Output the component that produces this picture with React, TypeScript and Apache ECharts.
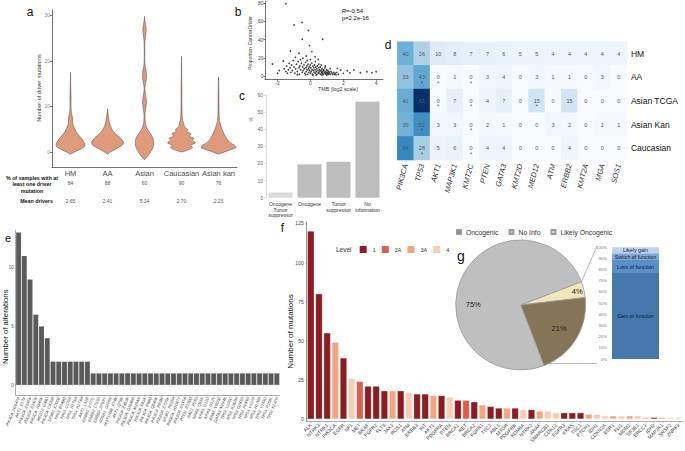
import React, { useEffect, useRef } from 'react';
import * as echarts from 'echarts';

const FONT = "'Liberation Sans', Arial, Helvetica, sans-serif";

// ---------- panel a : violins ----------
const cohortsA = ['HM', 'AA', 'Asian', 'Caucasian', 'Asian kan'];
const pctWithDriver = ['84', '88', '60', '90', '76'];
const meanDrivers = ['2.65', '2.41', '5.14', '2.70', '2.23'];
const densityHM = [[-0.5, 0], [0, 4], [0.5, 9], [1, 13], [1.5, 14.5], [2, 14], [3, 11], [4, 7], [5, 4.5], [6, 2.5], [7, 2], [7.5, 2.2], [8, 1.5], [9, 0.8], [10, 0.5], [12, 0.6], [14, 0.3], [17.5, 0]];
const densityAA = [[-0.5, 0], [0, 3], [0.5, 7], [1, 11], [1.5, 14.5], [2, 16], [2.5, 15], [3, 13], [3.5, 11], [4, 8], [5, 4.5], [6, 2.5], [7, 1.5], [8, 0.8], [9.5, 0]];
const densityAsian = [[-1.7, 0], [-1, 3], [0, 6], [1, 8.5], [2, 9.2], [3, 8.5], [4, 6], [5, 3], [6, 1.2], [7, 0.6], [8, 0.5], [9, 0.8], [10, 1.5], [11, 2], [12, 1.5], [13, 0.7], [14, 0.4], [15, 1], [16, 1.8], [17, 2], [18, 1.5], [19, 0.6], [20, 0.3], [22, 0.3], [24, 0.4], [25.5, 1], [27, 1.7], [28, 1], [29, 0.3], [29.8, 0]];
const densityCauc = [[0, 0], [0.3, 5], [0.7, 9], [1, 11], [1.5, 9.5], [2, 14], [2.5, 11], [3, 12.5], [3.5, 8], [4, 9.5], [4.5, 5.5], [5, 6], [5.5, 3], [6, 2.5], [7, 1.2], [8, 0.7], [10, 0.5], [14, 0.4], [21, 0]];
const densityKan = [[-0.5, 0], [0, 6], [0.5, 12], [1, 17.5], [1.5, 16], [2, 12], [3, 8], [4, 5.5], [5, 3.5], [6, 2], [7, 1], [8, 0.6], [10, 0.5], [13, 0.4], [16.5, 0]];
const violinDensities = [densityHM, densityAA, densityAsian, densityCauc, densityKan];

// ---------- panel b : scatter ----------
const tmbPoints = [
  [-1.5, 79.3], [-1.0, 56], [-0.52, 58.7], [-0.12, 50], [-0.5, 40.4], [0.74, 40.4], [-0.06, 33.4], [-1.22, 27.5], [-0.7, 25], [0.08, 26.8],
  [-1.66, 16.5], [-2.32, 13.2], [-0.92, 20.5], [-0.46, 19.4], [-0.26, 21.9], [0.28, 21.2], [0.48, 18.2],
  [1.84, 6.6], [2.24, 5.8], [2.64, 6.6], [3.04, 3.6], [3.44, 4.7], [3.74, 3.6], [4.0, 4.7], [2.4, 3.6], [1.64, 8.4], [2.0, 2.9],
  [-1.6, 8], [-1.5, 5], [-1.45, 11], [-1.4, 3], [-1.35, 7], [-1.3, 14], [-1.25, 9], [-1.2, 4], [-1.15, 12], [-1.1, 6], [-1.05, 17], [-1.0, 10],
  [-0.95, 3], [-0.9, 8], [-0.85, 13], [-0.8, 5], [-0.75, 16], [-0.7, 9], [-0.68, 2], [-0.65, 11], [-0.6, 7], [-0.55, 14], [-0.5, 4], [-0.48, 10],
  [-0.45, 6], [-0.4, 12], [-0.38, 8], [-0.35, 3], [-0.3, 15], [-0.28, 9], [-0.25, 5], [-0.22, 11], [-0.2, 7], [-0.18, 2], [-0.15, 13], [-0.12, 8],
  [-0.1, 4], [-0.08, 10], [-0.05, 6], [-0.02, 12], [0, 3], [0.02, 9], [0.05, 5], [0.08, 14], [0.1, 7], [0.12, 2], [0.15, 11], [0.18, 6], [0.2, 9],
  [0.22, 4], [0.25, 12], [0.28, 7], [0.3, 3], [0.32, 10], [0.35, 5], [0.38, 8], [0.4, 2], [0.42, 11], [0.45, 6], [0.48, 4], [0.5, 9], [0.52, 3],
  [0.55, 7], [0.58, 5], [0.6, 10], [0.62, 2], [0.65, 6], [0.68, 4], [0.7, 8], [0.72, 3], [0.75, 5], [0.78, 7], [0.8, 2], [0.82, 6], [0.85, 4],
  [0.88, 9], [0.9, 3], [0.92, 5], [0.95, 2], [0.98, 7], [1.0, 4], [1.02, 3], [1.05, 6], [1.08, 2], [1.1, 5], [1.12, 3], [1.15, 4], [1.2, 2],
  [1.25, 5], [1.3, 3], [1.35, 2], [1.4, 4], [1.45, 2], [1.5, 3], [1.55, 1.5], [1.6, 4], [1.7, 2], [-1.9, 6], [-2.0, 3], [-0.6, 18], [0.5, 13],
  [0.9, 11], [0.3, 16], [-0.2, 17], [0.65, 12], [0.0, 18], [1.2, 8], [0.35, 1], [0.7, 1.2], [-0.3, 1.5], [1.0, 1], [0.15, 0.8], [-0.8, 1.5]
];
const tmbTicks = [-2, 0, 2, 4];
const propTicks = [0, 20, 40, 60, 80];

// ---------- panel c : driver classes ----------
const driverClasses = ['Oncogene\nTumor\nsuppressor', 'Oncogene', 'Tumor\nsuppressor', 'No\ninformation'];
const driverClassPct = [3, 19.5, 21, 56];

// ---------- panel d : heatmap ----------
const heatGenes = ['PIK3CA', 'TP53', 'AKT1', 'MAP3K1', 'KMT2C', 'PTEN', 'GATA3', 'KMT2D', 'MED12', 'ATM', 'ERBB2', 'KMT2A', 'MGA', 'SOS1'];
const heatCohorts = ['HM', 'AA', 'Asian TCGA', 'Asian Kan', 'Caucasian'];
const heatHM = [40, 26, 10, 8, 7, 7, 6, 5, 5, 4, 4, 4, 4, 4];
const heatAA = [33, 43, 0, 1, 0, 3, 4, 0, 3, 1, 1, 0, 3, 0];
const heatAsianTCGA = [41, 81, 0, 7, 0, 4, 7, 0, 15, 0, 15, 0, 0, 0];
const heatAsianKan = [39, 52, 3, 3, 0, 2, 1, 0, 0, 3, 2, 0, 1, 1];
const heatCauc = [54, 28, 5, 6, 0, 4, 4, 0, 0, 0, 4, 0, 0, 0];
const heatRows = [heatHM, heatAA, heatAsianTCGA, heatAsianKan, heatCauc];
const heatStars = [['TP53', 'AA'], ['AKT1', 'AA'], ['KMT2C', 'AA'], ['TP53', 'Asian TCGA'], ['AKT1', 'Asian TCGA'], ['KMT2C', 'Asian TCGA'], ['MED12', 'Asian TCGA'], ['TP53', 'Asian Kan'], ['KMT2C', 'Asian Kan'], ['TP53', 'Caucasian'], ['KMT2C', 'Caucasian']];

// ---------- panel e : alterations ----------
const altLabels = ['PIK3CA_H1047R', 'AKT1_E17K', 'PIK3CA_E545K', 'PIK3CA_E542K', 'PIK3CA_N345K', 'MED12_G44D', 'PIK3CA_C420R', 'SF3B1_K700E', 'TP53_R248Q', 'TP53_C176F', 'TP53_R175H', 'TP53_R273H', 'AKT1_L52R',
  'ERBB2_V777L', 'ERBB2_L755S', 'ERBB2_D769Y', 'FOXA1_D226N', 'HIST1H3B_E74K', 'AKT1_Q79K', 'PIK3CA_E453K', 'PIK3CA_G1049R', 'PIK3CA_M1043I', 'PIK3CA_E81K', 'PIK3CA_R88Q', 'PIK3CA_Q546K', 'PIK3CA_R93W',
  'PIK3CA_E726K', 'SF3B1_R625H', 'PIK3CA_H1047Y', 'PIK3CA_E545A', 'PTEN_R130Q', 'RAC1_P29S', 'NRAS_Q61K', 'KRAS_G12D', 'KRAS_G12V', 'BRAF_V600E', 'GATA3_M294K', 'TP53_Y220C', 'TP53_R282W',
  'TP53_G245S', 'TP53_R249S', 'TP53_V157F', 'TP53_H179R', 'TP53_Y163C', 'TP53_R158L', 'TP53_K132N'];
const altCounts = [13, 11, 9, 6, 5, 4, 2, 2, 2, 2, 2, 2, 2,
  1, 1, 1, 1, 1, 1, 1, 1, 1, 1, 1, 1, 1, 1, 1, 1, 1, 1, 1, 1, 1, 1, 1, 1, 1, 1, 1, 1, 1, 1, 1, 1, 1];

// ---------- panel f : actionable mutations ----------
const mutGenes = ['ALK', 'NTRK3', 'NTRK1', 'PIK3CA', 'EGFR', 'NF1', 'MET', 'BRAF', 'FGFR2', 'FLT3', 'JAK2', 'ROS1', 'ATM', 'ERBB3', 'KIT', 'AKT1', 'PDGFRA', 'PTEN', 'BRCA1', 'RET', 'BRCA2', 'FGFR1', 'TSC2',
  'ABL1', 'MTOR', 'PDGFRB', 'KDM6A', 'NTRK2', 'ARAF', 'SMARCB1', 'CDK12', 'FGFR3', 'KRAS', 'TSC1', 'PTCH1', 'IDH1', 'CDKN2A', 'ESR1', 'FLI1', 'MDM2', 'SF3B1', 'ERCC2', 'IDH2', 'MAP2K1', 'SRSF2', 'ZNRF3'];
const mutCounts = [120, 80, 55, 49, 39, 26, 24, 21, 21, 18, 18, 18, 17, 16, 16, 15, 15, 14, 12, 12, 11, 9, 8,
  7, 7, 7, 6, 6, 5, 5, 4, 4, 4, 4, 3, 3, 2, 2, 2, 2, 2, 1, 1, 1, 1, 1];
const mutLevels = ['1', '1', '1', '3A', '1', '4', '2A', '1', '1', '1', '3A', '1', '4', '1', '1', '3A', '1', '4', '1', '2A', '1', '3A', '1',
  '1', '3A', '1', '4', '1', '3A', '4', '4', '1', '1', '1', '3A', '4', '4', '3A', '4', '3A', '4', '3A', '1', '3A', '4', '4'];
const levelNames = ['1', '2A', '3A', '4'];
const levelColors = ['#8a1c22', '#d6604d', '#f4a582', '#f6cdb6'];

// ---------- panel g ----------
const oncoNames = ['Likely Oncogenic', 'Oncogenic', 'No Info'];
const oncoPct = [4, 21, 75];
const oncoColors = ['#efe6bb', '#857456', '#bfbfbf'];
const funcNames = ['Gain of function', 'Loss of function', 'Switch of function', 'Likely gain'];
const funcPct = [77, 11.6, 6, 5.4];
const funcColors = ['#4677ad', '#5990ca', '#7ea8d9', '#bcd2ee'];

const blues = ['#f7fbff', '#deebf7', '#c6dbef', '#9ecae1', '#6baed6', '#4292c6', '#2171b5', '#08519c', '#08306b'];

function buildOption() {
  const heatData: any[] = [];
  heatRows.forEach((row, r) => row.forEach((v, g) => heatData.push([heatGenes[g], heatCohorts[r], v])));

  const axisGrey = { color: '#333', width: 0.7 };
  const noSplit = { show: false };

  const fSeries = levelNames.map((lvl, li) => ({
    name: lvl,
    type: 'bar',
    xAxisIndex: 7,
    yAxisIndex: 5,
    stack: 'level',
    barWidth: '82%',
    itemStyle: { color: levelColors[li], borderColor: '#fff', borderWidth: 0.3 },
    data: mutCounts.map((v, i) => (mutLevels[i] === lvl ? v : '-')),
  }));

  const gSeries = funcNames.map((n, i) => ({
    name: n,
    type: 'bar',
    xAxisIndex: 8,
    yAxisIndex: 6,
    stack: 'func',
    barWidth: '100%',
    itemStyle: { color: funcColors[i] },
    label: { show: true, position: 'inside', formatter: '{a}', fontSize: 5.3, color: '#1a1a1a', fontFamily: FONT },
    data: [funcPct[i]],
  }));

  const pieLabelShift = [[22, -5], [8, 5], [-15, 14]];

  return {
    animation: false,
    textStyle: { fontFamily: FONT },
    grid: [
      { left: 52, top: 10, width: 185, height: 157 },
      { left: 265, top: 1, width: 118, height: 78.3 },
      { left: 266, top: 95, width: 116, height: 102.7 },
      { left: 397.3, top: 41.7, width: 229.6, height: 118.3 },
      { left: 15.7, top: 230, width: 264, height: 165 },
      { left: 306.7, top: 221.8, width: 376, height: 199.9 },
      { left: 612, top: 247.3, width: 47, height: 111.7 },
    ],
    xAxis: [
      { gridIndex: 0, type: 'category', data: cohortsA, axisLine: { onZero: false, lineStyle: axisGrey }, axisTick: { alignWithLabel: true, length: 2, lineStyle: axisGrey }, axisLabel: { interval: 0, fontSize: 7.5, color: '#4d4d4d', margin: 2 }, splitLine: noSplit },
      { gridIndex: 0, type: 'category', data: cohortsA, position: 'bottom', offset: 12, axisLine: { show: false, onZero: false }, axisTick: { show: false }, axisLabel: { interval: 0, fontSize: 5, color: '#555', margin: 1, formatter: (_v: string, i: number) => pctWithDriver[i] } },
      { gridIndex: 0, type: 'category', data: cohortsA, position: 'bottom', offset: 30, axisLine: { show: false, onZero: false }, axisTick: { show: false }, axisLabel: { interval: 0, fontSize: 5, color: '#555', margin: 1, formatter: (_v: string, i: number) => meanDrivers[i] } },
      { gridIndex: 1, type: 'value', min: -2.77, max: 4.42, axisLine: { show: true, onZero: false, lineStyle: axisGrey }, axisTick: { show: true, length: 1.5, customValues: tmbTicks, lineStyle: axisGrey }, axisLabel: { customValues: tmbTicks, fontSize: 5, color: '#444', margin: 1 }, splitLine: noSplit },
      { gridIndex: 2, type: 'category', data: driverClasses, axisLine: { show: false, onZero: false }, axisTick: { show: false }, axisLabel: { interval: 0, fontSize: 5, lineHeight: 5.3, color: '#333', margin: 4 } },
      { gridIndex: 3, type: 'category', data: heatGenes, position: 'bottom', axisLine: { show: false, onZero: false }, axisTick: { show: false }, axisLabel: { interval: 0, rotate: 75, fontStyle: 'italic', fontSize: 7.5, color: '#333', margin: 4 }, splitLine: noSplit },
      { gridIndex: 4, type: 'category', data: altLabels, axisLine: { onZero: false, lineStyle: { color: '#777', width: 0.6 } }, axisTick: { show: true, alignWithLabel: true, length: 1.5, lineStyle: { color: '#777', width: 0.4 } }, axisLabel: { interval: 0, rotate: 68, fontSize: 4, color: '#333', fontStyle: 'italic', margin: 2 } },
      { gridIndex: 5, type: 'category', data: mutGenes, axisLine: { onZero: false, lineStyle: { color: '#777', width: 0.6 } }, axisTick: { show: true, alignWithLabel: true, length: 1.5, lineStyle: { color: '#777', width: 0.4 } }, axisLabel: { interval: 0, rotate: 45, fontSize: 5, color: '#333', margin: 2.5 } },
      { gridIndex: 6, type: 'category', data: ['function'], show: false },
    ],
    yAxis: [
      { gridIndex: 0, type: 'value', min: -3.3, max: 31.2, axisLine: { show: true, onZero: false, lineStyle: axisGrey }, axisTick: { show: true, length: 2, customValues: [0, 10, 20, 30], lineStyle: axisGrey }, axisLabel: { customValues: [0, 10, 20, 30], fontSize: 5, color: '#888', margin: 2 }, splitLine: noSplit },
      { gridIndex: 1, type: 'value', min: -3.6, max: 82.4, axisLine: { show: true, onZero: false, lineStyle: axisGrey }, axisTick: { show: true, length: 1.5, customValues: propTicks, lineStyle: axisGrey }, axisLabel: { customValues: propTicks, fontSize: 5, color: '#444', margin: 1.5 }, splitLine: noSplit },
      { gridIndex: 2, type: 'value', min: 0, max: 60, interval: 10, axisLine: { show: true, onZero: false, lineStyle: { color: '#cfcfcf', width: 0.7 } }, axisTick: { show: true, length: 1.5, lineStyle: { color: '#cfcfcf' } }, axisLabel: { fontSize: 5, color: '#666', margin: 3 }, splitLine: noSplit },
      { gridIndex: 3, type: 'category', data: heatCohorts, inverse: true, position: 'right', axisLine: { show: false, onZero: false }, axisTick: { show: false }, axisLabel: { fontSize: 8.5, color: '#111', margin: 4 }, splitLine: noSplit },
      { gridIndex: 4, type: 'value', min: -0.85, max: 13.2, axisLine: { show: true, onZero: false, lineStyle: { color: '#777', width: 0.6 } }, axisTick: { show: true, length: 1.5, customValues: [0, 5, 10], lineStyle: { color: '#777', width: 0.4 } }, axisLabel: { customValues: [0, 5, 10], fontSize: 4.5, color: '#555', margin: 2 }, splitLine: noSplit },
      { gridIndex: 5, type: 'value', min: -1.7, max: 126, axisLine: { show: true, onZero: false, lineStyle: { color: '#555', width: 0.6 } }, axisTick: { show: true, length: 1.5, customValues: [0, 25, 50, 75, 100, 125], lineStyle: { color: '#555', width: 0.4 } }, axisLabel: { customValues: [0, 25, 50, 75, 100, 125], fontSize: 5, color: '#444', margin: 3 }, splitLine: noSplit },
      { gridIndex: 6, type: 'value', min: 0, max: 100, interval: 10, axisLine: { show: false, onZero: false }, axisTick: { show: false }, axisLabel: { formatter: '{value}%', fontSize: 4.3, color: '#777', margin: 5 }, splitLine: noSplit },
    ],
    visualMap: { show: false, type: 'continuous', seriesIndex: 3, dimension: 2, min: 0, max: 81, inRange: { color: blues } },
    legend: [
      { data: levelNames, left: 357.7, top: 244, padding: 0, itemWidth: 9, itemHeight: 9, itemGap: 4, icon: 'rect', selectedMode: false, textStyle: { fontSize: 5.5, color: '#333', fontFamily: FONT } },
      { data: ['Oncogenic', 'No Info', 'Likely Oncogenic'], left: 456, top: 228.5, padding: 0, itemWidth: 4, itemHeight: 4, itemGap: 10, icon: 'rect', selectedMode: false, textStyle: { fontSize: 6.8, color: '#333', fontFamily: FONT } },
    ],
    series: [
      {
        type: 'custom',
        name: 'violins',
        xAxisIndex: 0,
        yAxisIndex: 0,
        data: cohortsA.map((_c, i) => [i, 0]),
        encode: { x: 0, y: 1 },
        renderItem: (_p: any, api: any) => {
          const i = api.value(0);
          const prof = violinDensities[i];
          const band = api.size([1, 0])[0];
          const k = band / 37;
          const pts: number[][] = [];
          for (const [v, d] of prof) { const c = api.coord([i, v]); pts.push([c[0] + d * k, c[1]]); }
          for (let j = prof.length - 1; j >= 0; j--) { const [v, d] = prof[j]; const c = api.coord([i, v]); pts.push([c[0] - d * k, c[1]]); }
          return { type: 'polygon', shape: { points: pts, smooth: 0.35 }, style: { fill: '#df9a7b', stroke: '#3d3d3d', lineWidth: 0.45 } };
        },
      },
      { type: 'scatter', name: 'tmb', xAxisIndex: 3, yAxisIndex: 1, symbolSize: 1.7, itemStyle: { color: '#111' }, data: tmbPoints },
      {
        type: 'bar', name: 'classes', xAxisIndex: 4, yAxisIndex: 2, barCategoryGap: '17%',
        data: driverClassPct.map((v, i) => ({ value: v, itemStyle: { color: i === 0 ? '#dadada' : '#bdbdbd' } })),
      },
      {
        type: 'heatmap', name: 'heat', xAxisIndex: 5, yAxisIndex: 3, data: heatData,
        label: { show: true, fontSize: 5.5, color: '#555', formatter: (p: any) => String(p.value[2]) },
      },
      {
        type: 'scatter', name: 'stars', xAxisIndex: 5, yAxisIndex: 3, symbolSize: 1, itemStyle: { color: 'rgba(0,0,0,0)' },
        data: heatStars,
        label: { show: true, position: 'inside', offset: [0, 6], formatter: '*', fontSize: 6.5, color: '#444' },
      },
      ...fSeries,
      {
        type: 'bar', name: 'alterations', xAxisIndex: 6, yAxisIndex: 4, barCategoryGap: '10%',
        itemStyle: { color: '#595959', borderColor: '#d0d0d0', borderWidth: 0.2 }, data: altCounts,
      },
      {
        type: 'pie', name: 'onco', center: [520.7, 305], radius: 65, startAngle: 21, clockwise: true,
        itemStyle: { borderColor: '#9a9a9a', borderWidth: 0.8 },
        label: { show: true, position: 'inside', formatter: '{c}%', fontSize: 7.5, color: '#222' },
        labelLine: { show: false },
        labelLayout: (p: any) => { const s = pieLabelShift[p.dataIndex]; return { dx: s[0], dy: s[1] }; },
        emphasis: { disabled: true },
        data: oncoNames.map((n, i) => ({ name: n, value: oncoPct[i], itemStyle: { color: oncoColors[i] } })),
      },
      ...gSeries,
    ],
    graphic: [
      { type: 'text', x: 30, y: 12, style: { text: 'a', fontSize: 12, fontFamily: FONT, fill: '#111', align: 'center', verticalAlign: 'middle' } },
      { type: 'text', x: 238, y: 12, style: { text: 'b', fontSize: 12, fontFamily: FONT, fill: '#111', align: 'center', verticalAlign: 'middle' } },
      { type: 'text', x: 242, y: 96, style: { text: 'c', fontSize: 12, fontFamily: FONT, fill: '#111', align: 'center', verticalAlign: 'middle' } },
      { type: 'text', x: 388, y: 45, style: { text: 'd', fontSize: 12, fontFamily: FONT, fill: '#111', align: 'center', verticalAlign: 'middle' } },
      { type: 'text', x: 8, y: 238, style: { text: 'e', fontSize: 11, fontFamily: FONT, fill: '#111', align: 'center', verticalAlign: 'middle' } },
      { type: 'text', x: 282.5, y: 228, style: { text: 'f', fontSize: 12, fontFamily: FONT, fill: '#111', align: 'center', verticalAlign: 'middle' } },
      { type: 'text', x: 461, y: 256, style: { text: 'g', fontSize: 14, fontFamily: FONT, fill: '#111', align: 'center', verticalAlign: 'middle' } },
      { type: 'text', x: 39, y: 88, rotation: Math.PI / 2, style: { text: 'Number of driver mutations', fontSize: 5.6, fontFamily: FONT, fill: '#333', align: 'center', verticalAlign: 'middle' } },
      { type: 'text', x: 32, y: 174.7, style: { text: '% of samples with at\nleast one driver\nmutation', fontSize: 5.3, lineHeight: 6.5, fontWeight: 'bold', fontFamily: FONT, fill: '#111', align: 'center', verticalAlign: 'top' } },
      { type: 'text', x: 36.5, y: 200.5, style: { text: 'Mean drivers', fontSize: 5.3, fontWeight: 'bold', fontFamily: FONT, fill: '#111', align: 'center', verticalAlign: 'middle' } },
      { type: 'text', x: 250, y: 43, rotation: Math.PI / 2, style: { text: 'Proportion CancerDriver', fontSize: 5, fontFamily: FONT, fill: '#333', align: 'center', verticalAlign: 'middle' } },
      { type: 'text', x: 338, y: 88.5, style: { text: 'TMB (log2 scale)', fontSize: 5.3, fontFamily: FONT, fill: '#333', align: 'center', verticalAlign: 'middle' } },
      { type: 'text', x: 341.7, y: 10.7, style: { text: '{i|R}=-0.54', fontSize: 6, fontFamily: FONT, fill: '#111', verticalAlign: 'middle', rich: { i: { fontStyle: 'italic', fontSize: 6, fontFamily: FONT, fill: '#111' } } } },
      { type: 'text', x: 341.7, y: 18.3, style: { text: 'p=2.2e-16', fontSize: 6, fontFamily: FONT, fill: '#111', verticalAlign: 'middle' } },
      { type: 'text', x: 251, y: 119.5, rotation: Math.PI / 2, style: { text: '%', fontSize: 4.5, fontFamily: FONT, fill: '#555', align: 'center', verticalAlign: 'middle' } },
      { type: 'text', x: 5, y: 326.7, rotation: Math.PI / 2, style: { text: 'Number of alterations', fontSize: 7.8, fontFamily: FONT, fill: '#111', align: 'center', verticalAlign: 'middle' } },
      { type: 'text', x: 290, y: 331.5, rotation: Math.PI / 2, style: { text: 'Number of mutations', fontSize: 8, fontFamily: FONT, fill: '#111', align: 'center', verticalAlign: 'middle' } },
      { type: 'text', x: 336, y: 249, style: { text: 'Level', fontSize: 6.5, fontFamily: FONT, fill: '#333', align: 'left', verticalAlign: 'middle' } },
      { type: 'line', shape: { x1: 581.4, y1: 281.7, x2: 597, y2: 246 }, style: { stroke: '#8a8a8a', lineWidth: 0.6 } },
      { type: 'line', shape: { x1: 545, y1: 363.5, x2: 597, y2: 363.5 }, style: { stroke: '#8a8a8a', lineWidth: 0.6 } },
    ],
  };
}

export default function App() {
  const ref = useRef<HTMLDivElement>(null);
  useEffect(() => {
    document.body.style.margin = '0';
    const chart = echarts.init(ref.current as HTMLDivElement, undefined, { renderer: 'svg', width: 685, height: 451 });
    chart.setOption(buildOption() as any);
    return () => chart.dispose();
  }, []);
  return <div ref={ref} style={{ position: 'absolute', left: 0, top: 0, width: 685, height: 451, background: '#fff' }} />;
}
